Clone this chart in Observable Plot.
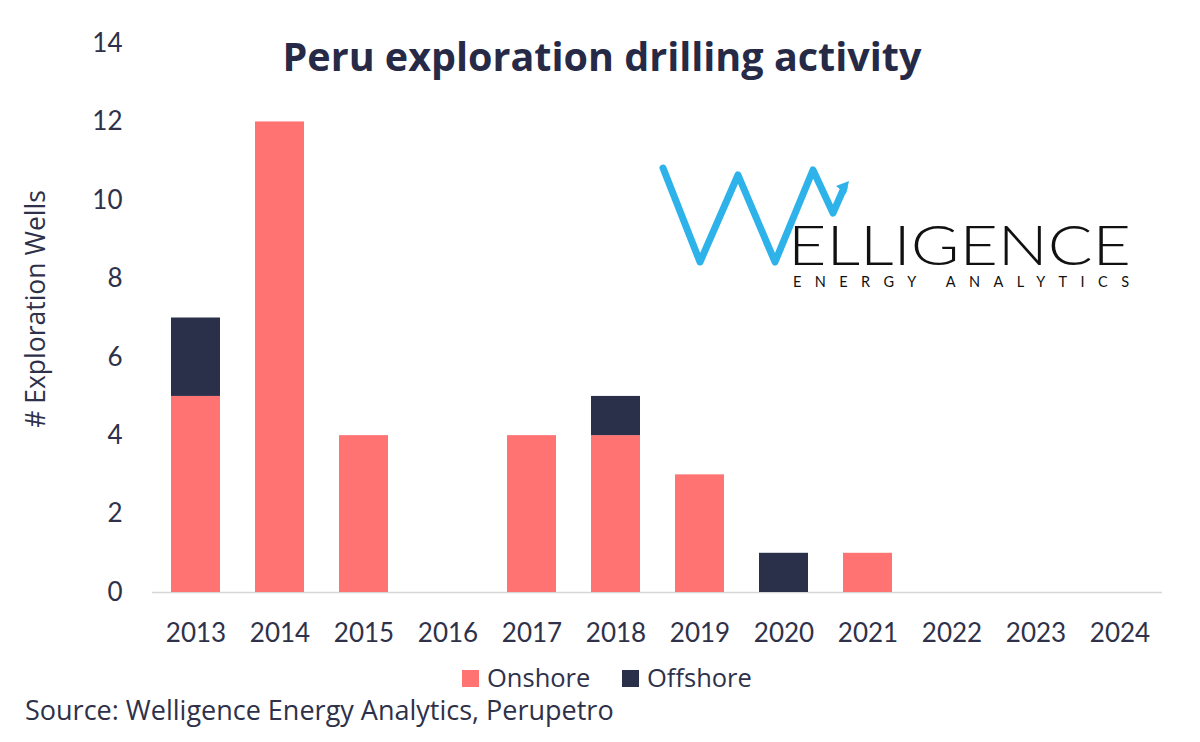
<!DOCTYPE html>
<html>
<head>
<meta charset="utf-8">
<script src="https://cdn.jsdelivr.net/npm/d3@7"></script>
<script src="https://cdn.jsdelivr.net/npm/@observablehq/plot@0.6"></script>
<style>
  html, body { margin:0; padding:0; background:#fff; }
  #wrap { position:relative; width:1200px; height:742px; overflow:hidden; }
  #chart { position:absolute; left:0; top:0; }
  #overlay { position:absolute; left:0; top:0; }
</style>
</head>
<body>
<div id="wrap">
  <div id="chart"></div>
  <svg id="overlay" width="1200" height="742" font-family="'Open Sans', Lato, sans-serif">
    <text id="title" x="602" y="71" text-anchor="middle" font-weight="bold" font-size="39.5" fill="#262a47">Peru exploration drilling activity</text>
    <text x="45" y="309" text-anchor="middle" font-size="26.5" fill="#2e3149" transform="rotate(-90 45 309)"># Exploration Wells</text>
    <g id="legend"></g>
    <text x="25" y="720" font-size="27" fill="#2e3149">Source: Welligence Energy Analytics, Perupetro</text>
    <g id="logo">
      <polyline points="663,168 700,262 738,175 775,262 813,170 833,213 844,188" fill="none" stroke="#2eb2ea" stroke-width="7" stroke-linecap="round" stroke-linejoin="round"/>
      <polygon points="849,181 836,186 846,194" fill="#2eb2ea"/>
      <text x="788" y="265" font-family="Lato, sans-serif" font-weight="300" font-size="56" fill="#111" textLength="343" lengthAdjust="spacingAndGlyphs">ELLIGENCE</text>
      <text x="793" y="287" font-family="Lato, sans-serif" font-size="14.5" fill="#111" textLength="336" lengthAdjust="spacing">ENERGY ANALYTICS</text>
    </g>
  </svg>
</div>
<script>
const years = ["2013","2014","2015","2016","2017","2018","2019","2020","2021","2022","2023","2024"];
const onshore  = [5, 12, 4, 0, 4, 4, 3, 0, 1, 0, 0, 0];
const offshore = [2, 0, 0, 0, 0, 1, 0, 1, 0, 0, 0, 0];
const seriesNames = ["Onshore", "Offshore"];
const seriesColors = ["#ff7373", "#2a2f4a"];
const yTicks = [0, 2, 4, 6, 8, 10, 12, 14];

const data = [];
years.forEach((y, i) => {
  data.push({year: y, type: seriesNames[0], value: onshore[i]});
  data.push({year: y, type: seriesNames[1], value: offshore[i]});
});

const chart = Plot.plot({
  width: 1200,
  height: 742,
  marginLeft: 152,
  marginRight: 38,
  marginTop: 43,
  marginBottom: 150,
  style: {fontFamily: "Lato, 'Open Sans', sans-serif", fontSize: "26px", color: "#2e3149", background: "transparent"},
  x: {domain: years, paddingInner: 0.42, paddingOuter: 0.21, label: null, tickSize: 0, tickPadding: 31},
  y: {domain: [0, 14], ticks: yTicks, label: null, tickSize: 0, tickPadding: 30},
  color: {domain: seriesNames, range: seriesColors},
  marks: [
    Plot.ruleY([0], {stroke: "#d6d6d6", strokeWidth: 1.6}),
    Plot.barY(data, {x: "year", y: "value", fill: "type"})
  ]
});
document.getElementById("chart").appendChild(chart);

// legend
const ns = "http://www.w3.org/2000/svg";
const lg = document.getElementById("legend");
const legendX = [462, 622];
seriesNames.forEach((n, i) => {
  const r = document.createElementNS(ns, "rect");
  r.setAttribute("x", legendX[i]); r.setAttribute("y", 670);
  r.setAttribute("width", 17); r.setAttribute("height", 17);
  r.setAttribute("fill", seriesColors[i]);
  lg.appendChild(r);
  const t = document.createElementNS(ns, "text");
  t.setAttribute("x", legendX[i] + 25); t.setAttribute("y", 687);
  t.setAttribute("font-size", 25.5); t.setAttribute("fill", "#2e3149");
  t.textContent = n;
  lg.appendChild(t);
});
</script>
</body>
</html>
